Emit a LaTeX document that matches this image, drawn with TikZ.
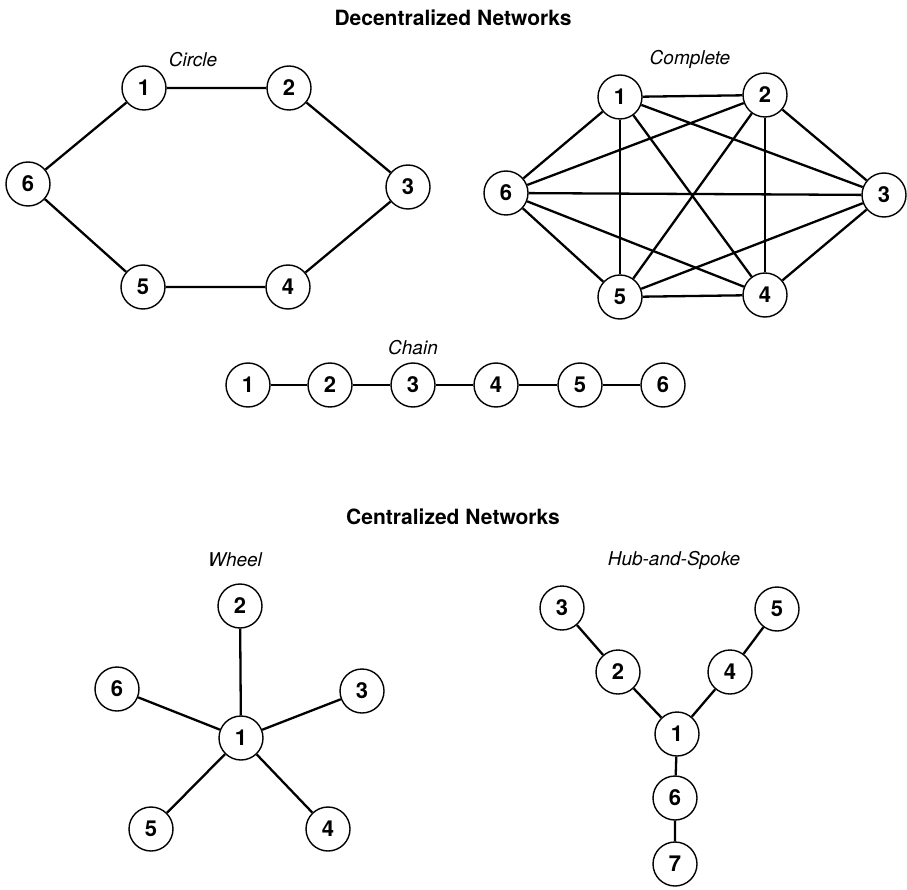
\documentclass[tikz,border=0pt]{standalone}
\usepackage{fontspec}
\setmainfont{TeX Gyre Heros}
\begin{document}
\begin{tikzpicture}[x=1pt,y=-1pt,
  nd/.style={circle,draw,line width=1.4pt,minimum size=44pt,inner sep=0pt,fill=white,font=\fontsize{22}{24}\selectfont\bfseries},
  ttl/.style={font=\fontsize{21}{23}\selectfont\bfseries},
  lbl/.style={font=\fontsize{19}{21}\selectfont\itshape},
  ed/.style={line width=2.3pt}]
\useasboundingbox (0,0) rectangle (907,890);
\node[ttl] (t1) at (453,18) {Decentralized Networks};
\node[ttl] (t2) at (453,517) {Centralized Networks};
% Circle
\node[lbl] (lc) at (193,60) {Circle};
\node[nd] (c1) at (144,88) {1};
\node[nd] (c2) at (289,88) {2};
\node[nd] (c3) at (408,187) {3};
\node[nd] (c4) at (288,287) {4};
\node[nd] (c5) at (143,287) {5};
\node[nd] (c6) at (28,184) {6};
\draw[ed] (c1)--(c2) (c2)--(c3) (c3)--(c4) (c4)--(c5) (c5)--(c6) (c6)--(c1);
% Complete
\node[lbl] (lk) at (690,59) {Complete};
\node[nd] (k1) at (620,97) {1};
\node[nd] (k2) at (765,95) {2};
\node[nd] (k3) at (884,195) {3};
\node[nd] (k4) at (765,295) {4};
\node[nd] (k5) at (620,297) {5};
\node[nd] (k6) at (506,193) {6};
\foreach \a/\b in {1/2,1/3,1/4,1/5,1/6,2/3,2/4,2/5,2/6,3/4,3/5,3/6,4/5,4/6,5/6}
  \draw[ed] (k\a)--(k\b);
% Chain
\node[lbl] (lch) at (413,348) {Chain};
\node[nd] (h1) at (248,385) {1};
\node[nd] (h2) at (330,385) {2};
\node[nd] (h3) at (413,385) {3};
\node[nd] (h4) at (496,385) {4};
\node[nd] (h5) at (580,385) {5};
\node[nd] (h6) at (663,385) {6};
\draw[ed] (h1)--(h2) (h2)--(h3) (h3)--(h4) (h4)--(h5) (h5)--(h6);
% Wheel
\node[lbl] (lw) at (235,560) {Wheel};
\node[nd] (w1) at (241,738) {1};
\node[nd] (w2) at (240,606) {2};
\node[nd] (w3) at (362,691) {3};
\node[nd] (w4) at (328,829) {4};
\node[nd] (w5) at (151,829) {5};
\node[nd] (w6) at (117,689) {6};
\draw[ed] (w1)--(w2) (w1)--(w3) (w1)--(w4) (w1)--(w5) (w1)--(w6);
% Hub and spoke
\node[lbl] (lh) at (674,560) {Hub-and-Spoke};
\node[nd] (s1) at (677,734) {1};
\node[nd] (s2) at (618,672) {2};
\node[nd] (s3) at (562,608) {3};
\node[nd] (s4) at (730,672) {4};
\node[nd] (s5) at (777,609) {5};
\node[nd] (s6) at (675,798) {6};
\node[nd] (s7) at (675,864) {7};
\draw[ed] (s1)--(s2) (s2)--(s3) (s1)--(s4) (s4)--(s5) (s1)--(s6) (s6)--(s7);
\end{tikzpicture}
\end{document}
